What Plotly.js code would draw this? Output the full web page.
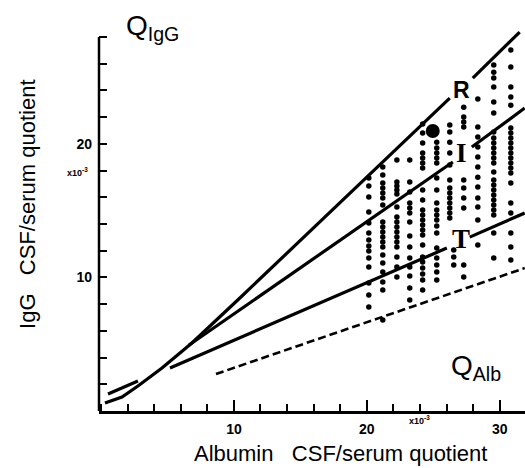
<!DOCTYPE html>
<html>
<head>
<meta charset="utf-8">
<script src="https://cdn.plot.ly/plotly-3.0.1.min.js"></script>
<style>html,body{margin:0;padding:0;background:#fff;}#chart{width:525px;height:468px;}</style>
</head>
<body>
<div id="chart"></div>
<script>
// Albumin quotient (x10^-3) of each column of patient dots
const columnX = [20.15, 21.2, 22.26, 23.23, 24.2, 25.26, 26.24, 26.54, 27.29, 28.35, 29.55, 30.83];
// IgG quotient (x10^-3) of the dots in each column
const colA = [17.44, 16.84, 16.02, 14.90, 14.07, 13.32, 12.80, 12.35, 11.98, 11.45, 10.78, 9.58, 8.68, 7.78];
const colB = [18.26, 17.66, 17.07, 16.69, 16.32, 15.94, 15.42, 14.15, 13.77, 13.40, 13.02, 12.65, 12.28, 11.68, 11.08, 10.40, 9.66, 9.06, 6.81];
const colC = [18.79, 17.14, 16.84, 16.54, 16.24, 15.27, 14.52, 14.15, 13.77, 13.40, 13.02, 12.65, 12.28, 11.53, 10.78, 10.03];
const colD = [18.79, 17.14, 16.39, 15.57, 15.19, 14.82, 14.15, 13.10, 12.28, 11.45, 10.78, 10.10, 9.21, 8.31];
const colE = [21.48, 20.81, 20.06, 19.31, 18.94, 18.56, 18.19, 16.54, 15.79, 15.04, 14.67, 14.30, 13.92, 13.55, 13.17, 12.43, 11.53, 11.15, 10.70, 10.25, 9.81, 9.06];
const colF = [20.13, 19.69, 19.31, 18.94, 18.56, 17.44, 16.54, 15.57, 15.04, 14.67, 14.30, 13.85, 13.32, 12.20, 11.45, 10.93, 10.40, 9.81];
const colG = [21.41, 20.88, 20.13, 19.31, 18.41, 17.29, 16.69, 16.32, 15.94, 15.57, 15.19, 14.82, 14.45];
const colG2 = [12.05, 11.53, 10.93];
const colH = [22.75, 22.01, 21.63, 21.26, 17.29, 16.69, 15.94, 15.19, 10.93, 10.03];
const colI = [23.35, 21.26, 20.51, 19.76, 19.01, 18.26, 17.51, 16.77, 15.94, 15.27, 14.30, 12.43];
const colJ = [25.90, 25.37, 24.93, 24.25, 23.13, 22.31, 20.88, 20.43, 20.06, 19.69, 19.31, 18.94, 18.56, 17.89, 17.29, 16.92, 16.54, 16.17, 15.79, 15.42, 15.04, 14.67, 13.32, 11.45];
const colK = [27.02, 25.75, 24.25, 23.50, 22.90, 21.18, 20.81, 20.43, 20.06, 19.69, 19.31, 18.94, 18.56, 18.19, 17.81, 17.07, 15.57, 14.82, 13.32, 12.28, 11.30];
const columns = [colA, colB, colC, colD, colE, colF, colG, colG2, colH, colI, colJ, colK];
// single large dot
const bigDotX = [24.96];
const bigDotY = [20.96];

// reference lines (vertices, null = gap for the label)
const lineRX = [0.30, 1.58, 2.78, 4.59, 6.84, 10.45, 26.24, null, 27.97, 31.5];
const lineRY = [0.60, 1.05, 1.87, 3.22, 5.09, 8.46, 23.43, null, 24.93, 28.37];
const lineIX = [6.6, 26.47, null, 27.9, 31.88];
const lineIY = [4.92, 18.64, null, 19.76, 22.68];
const lineTX = [5.19, 26.02, null, 27.74, 31.88];
const lineTY = [3.22, 12.20, null, 13.02, 14.82];
const shortX = [0.53, 2.78];
const shortY = [1.27, 2.25];
const dashX = [8.65, 31.88];
const dashY = [2.77, 10.70];

const yTickVals = [10, 20];
const yTickText = ['10', '20'];
const xTickVals = [10, 20, 30];
const xTickText = ['10', '20', '30'];

const dotX = [], dotY = [];
columns.forEach((col, i) => col.forEach(v => { dotX.push(columnX[i]); dotY.push(v); }));

const lineStyle = {color: '#000', width: 3.2};
const traces = [
  {x: lineRX, y: lineRY, mode: 'lines', line: lineStyle, connectgaps: false, hoverinfo: 'skip'},
  {x: lineIX, y: lineIY, mode: 'lines', line: lineStyle, connectgaps: false, hoverinfo: 'skip'},
  {x: lineTX, y: lineTY, mode: 'lines', line: lineStyle, connectgaps: false, hoverinfo: 'skip'},
  {x: shortX, y: shortY, mode: 'lines', line: lineStyle, hoverinfo: 'skip'},
  {x: dashX, y: dashY, mode: 'lines', line: {color: '#000', width: 2.6, dash: '8px,4px'}, hoverinfo: 'skip'},
  {x: dotX, y: dotY, mode: 'markers', marker: {color: '#000', size: 5.5}},
  {x: bigDotX, y: bigDotY, mode: 'markers', marker: {color: '#000', size: 14}}
];

const sans = 'Liberation Sans, Arial, sans-serif';
const serif = 'Liberation Serif, Times New Roman, serif';
const layout = {
  width: 525, height: 468,
  margin: {l: 99, r: 0, t: 29, b: 57},
  paper_bgcolor: '#fff', plot_bgcolor: '#fff',
  showlegend: false,
  xaxis: {
    range: [-0.15, 31.9], showgrid: false, zeroline: false,
    showline: true, linecolor: '#000', linewidth: 2.5,
    ticks: 'inside', ticklen: 11, tickwidth: 2, tickcolor: '#000',
    tickmode: 'array', tickvals: xTickVals, ticktext: xTickText,
    tickfont: {family: sans, size: 14, color: '#000', weight: 'bold'},
    ticklabelstandoff: 4,
    minor: {tickmode: 'linear', tick0: 0, dtick: 2, ticks: 'inside', ticklen: 7, tickwidth: 2, tickcolor: '#000', showgrid: false}
  },
  yaxis: {
    range: [0, 28.6], showgrid: false, zeroline: false, showline: false,
    ticks: 'inside', ticklen: 8, tickwidth: 2, tickcolor: '#000',
    tickmode: 'array', tickvals: yTickVals, ticktext: yTickText,
    tickfont: {family: sans, size: 14, color: '#000', weight: 'bold'},
    ticklabelstandoff: 6,
    minor: {tickmode: 'linear', tick0: 0, dtick: 2, ticks: 'inside', ticklen: 8, tickwidth: 2, tickcolor: '#000', showgrid: false}
  },
  shapes: [
    {type: 'line', xref: 'paper', yref: 'y', x0: 0, x1: 0, y0: 0, y1: 28, line: {color: '#000', width: 2.5}}
  ],
  annotations: [
    {text: 'Q<sub>IgG</sub>', xref: 'paper', yref: 'paper', x: 0.0587, y: 1.005, xanchor: 'left', yanchor: 'middle', showarrow: false, font: {family: sans, size: 28, color: '#000'}},
    {text: 'Q<sub>Alb</sub>', xref: 'paper', yref: 'paper', x: 0.8216, y: 0.115, xanchor: 'left', yanchor: 'middle', showarrow: false, font: {family: sans, size: 28, color: '#000'}},
    {text: 'R', xref: 'x', yref: 'y', x: 27.1, y: 24.0, showarrow: false, font: {family: sans, size: 23, color: '#000', weight: 'bold'}},
    {text: 'I', xref: 'x', yref: 'y', x: 27.1, y: 19.3, showarrow: false, font: {family: serif, size: 27, color: '#000', weight: 'bold'}},
    {text: 'T', xref: 'x', yref: 'y', x: 27.1, y: 12.87, showarrow: false, font: {family: serif, size: 27, color: '#000', weight: 'bold'}},
    {text: 'IgG\u00a0\u00a0\u00a0CSF/serum quotient', xref: 'paper', yref: 'paper', x: -0.1667, y: 0.542, xanchor: 'center', yanchor: 'middle', textangle: -90, showarrow: false, font: {family: sans, size: 22, color: '#000'}},
    {text: 'Albumin\u00a0\u00a0\u00a0CSF/serum quotient', xref: 'paper', yref: 'paper', x: 0.566, y: -0.112, xanchor: 'center', yanchor: 'middle', showarrow: false, font: {family: sans, size: 22, color: '#000'}},
    {text: 'x10<sup>-3</sup>', xref: 'paper', yref: 'paper', x: -0.0516, y: 0.6257, xanchor: 'center', yanchor: 'middle', showarrow: false, font: {family: sans, size: 9, color: '#000', weight: 'bold'}},
    {text: 'x10<sup>-3</sup>', xref: 'paper', yref: 'paper', x: 0.7535, y: -0.0236, xanchor: 'center', yanchor: 'middle', showarrow: false, font: {family: sans, size: 9, color: '#000', weight: 'bold'}}
  ]
};

Plotly.newPlot('chart', traces, layout, {staticPlot: true, displayModeBar: false});
</script>
</body>
</html>
